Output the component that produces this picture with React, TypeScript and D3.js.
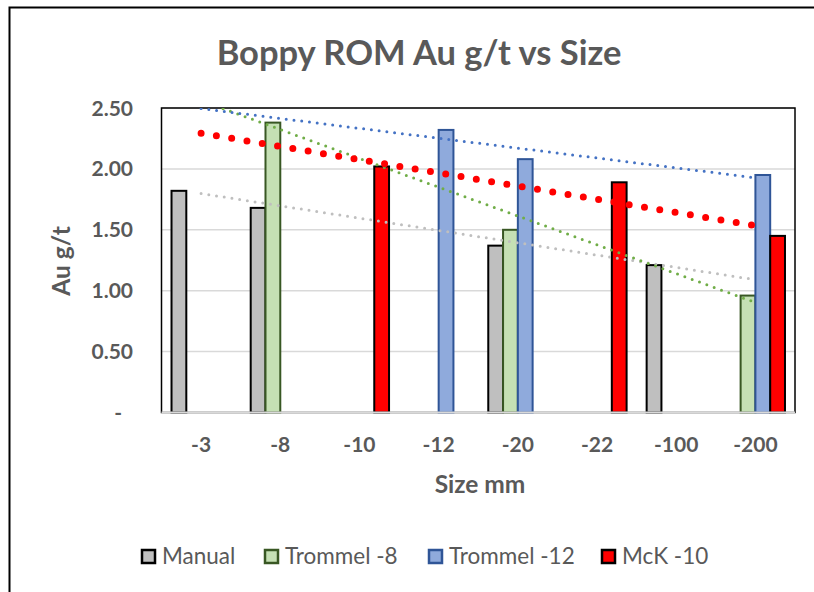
import React from 'react';
import * as d3 from 'd3';

const categories = ['-3', '-8', '-10', '-12', '-20', '-22', '-100', '-200'];
const manual = [1.82, 1.68, null, null, 1.37, null, 1.21, null];
const trommel8 = [null, 2.38, null, null, 1.5, null, null, 0.96];
const trommel12 = [null, null, null, 2.32, 2.08, null, null, 1.95];
const mck10 = [null, null, 2.02, null, null, 1.89, null, 1.45];
const yTicks = [0, 0.5, 1, 1.5, 2, 2.5];
const seriesNames = ['Manual', 'Trommel -8', 'Trommel -12', 'McK -10'];

type Val = number | null;

const W = 814;
const H = 592;
const plot = { left: 161.5, right: 795, top: 108, bottom: 412.5 };
const FONT = 'Lato, "Open Sans", sans-serif';
const TEXT = '#595959';

const styles = [
  { fill: '#BFBFBF', stroke: '#000000', trend: '#BFBFBF', tw: 3, gap: 7.8 },
  { fill: '#C5E0B4', stroke: '#385723', trend: '#70AD47', tw: 3, gap: 7.8 },
  { fill: '#8FAADC', stroke: '#2F5597', trend: '#4472C4', tw: 3, gap: 7.8 },
  { fill: '#FF0000', stroke: '#000000', trend: '#FF0000', tw: 7, gap: 15.5 },
];

const allSeries: Val[][] = [manual, trommel8, trommel12, mck10];

// linear trendline on category index (1..n), like Excel does
function trend(values: Val[]) {
  const pts = values
    .map((v, i) => (v == null ? null : [i + 1, v]))
    .filter((p): p is number[] => p != null);
  const mx = d3.mean(pts, (p) => p[0]) ?? 0;
  const my = d3.mean(pts, (p) => p[1]) ?? 0;
  const sxy = d3.sum(pts, (p) => (p[0] - mx) * (p[1] - my));
  const sxx = d3.sum(pts, (p) => (p[0] - mx) ** 2);
  const b = sxy / sxx;
  return (x: number) => my + b * (x - mx);
}

export default function App() {
  const x0 = d3
    .scaleBand<string>()
    .domain(categories)
    .range([plot.left, plot.right])
    .paddingInner(0.253)
    .paddingOuter(0.1265);
  const x1 = d3
    .scaleBand<string>()
    .domain(seriesNames)
    .range([0, x0.bandwidth()]);
  const y = d3.scaleLinear().domain([0, 2.5]).range([plot.bottom, plot.top]);
  const center = (i: number) => (x0(categories[i]) ?? 0) + x0.bandwidth() / 2;

  const legendX = [141, 264, 428, 601];

  return (
    <svg
      width={W}
      height={H}
      viewBox={`0 0 ${W} ${H}`}
      style={{ position: 'absolute', left: 0, top: 0, background: '#fff' }}
      fontFamily={FONT}
    >
      <defs>
        <clipPath id="plot-clip">
          <rect x={plot.left} y={plot.top} width={plot.right - plot.left} height={plot.bottom - plot.top} />
        </clipPath>
      </defs>
      <rect x={9.5} y={7.5} width={W + 20} height={H + 20} fill="#fff" stroke="#000" strokeWidth={2} />

      <text x={419} y={65} textAnchor="middle" fontSize={34.5} fontWeight="bold" fill={TEXT}>
        Boppy ROM Au g/t vs Size
      </text>

      {yTicks.map((t) => (
        <g key={t}>
          {t > 0 && (
            <line x1={plot.left} x2={plot.right} y1={y(t)} y2={y(t)} stroke="#D9D9D9" strokeWidth={1.5} />
          )}
          <text
            x={t === 0 ? 122 : 133}
            y={y(t)}
            dy="0.36em"
            textAnchor="end"
            fontSize={21}
            fontWeight="bold"
            fill={TEXT}
          >
            {t === 0 ? '-' : d3.format('.2f')(t)}
          </text>
        </g>
      ))}

      <rect
        x={plot.left}
        y={plot.top}
        width={plot.right - plot.left}
        height={plot.bottom - plot.top}
        fill="none"
        stroke="#000"
        strokeWidth={1.5}
      />

      {allSeries.map((vals, s) => (
        <g key={seriesNames[s]}>
          {vals.map((v, i) =>
            v == null ? null : (
              <rect
                key={i}
                x={(x0(categories[i]) ?? 0) + (x1(seriesNames[s]) ?? 0)}
                y={y(v)}
                width={x1.bandwidth()}
                height={y(0) - y(v)}
                fill={styles[s].fill}
                stroke={styles[s].stroke}
                strokeWidth={2}
              />
            ),
          )}
        </g>
      ))}

      <line x1={plot.left} x2={plot.right} y1={y(0)} y2={y(0)} stroke="#D9D9D9" strokeWidth={2} />

      <g clipPath="url(#plot-clip)">
        {allSeries.map((vals, s) => {
          const f = trend(vals);
          const n = categories.length;
          return (
            <line
              key={seriesNames[s]}
              x1={center(0)}
              y1={y(f(1))}
              x2={center(n - 1)}
              y2={y(f(n))}
              stroke={styles[s].trend}
              strokeWidth={styles[s].tw}
              strokeLinecap="round"
              strokeDasharray={`0 ${styles[s].gap}`}
            />
          );
        })}
      </g>

      {categories.map((c, i) => (
        <text key={c} x={center(i)} y={452} textAnchor="middle" fontSize={21} fontWeight="bold" fill={TEXT}>
          {c}
        </text>
      ))}

      <text x={480} y={493} textAnchor="middle" fontSize={24.5} fontWeight="bold" fill={TEXT}>
        Size mm
      </text>
      <text
        transform={`translate(70,261) rotate(-90)`}
        textAnchor="middle"
        fontSize={24.5}
        fontWeight="bold"
        fill={TEXT}
      >
        Au g/t
      </text>

      {seriesNames.map((name, s) => (
        <g key={name} transform={`translate(${legendX[s]},549)`}>
          <rect x={1} y={1} width={13} height={13} fill={styles[s].fill} stroke={styles[s].stroke} strokeWidth={2.5} />
          <text x={21} y={15} fontSize={22.5} fill={TEXT}>
            {name}
          </text>
        </g>
      ))}
    </svg>
  );
}
